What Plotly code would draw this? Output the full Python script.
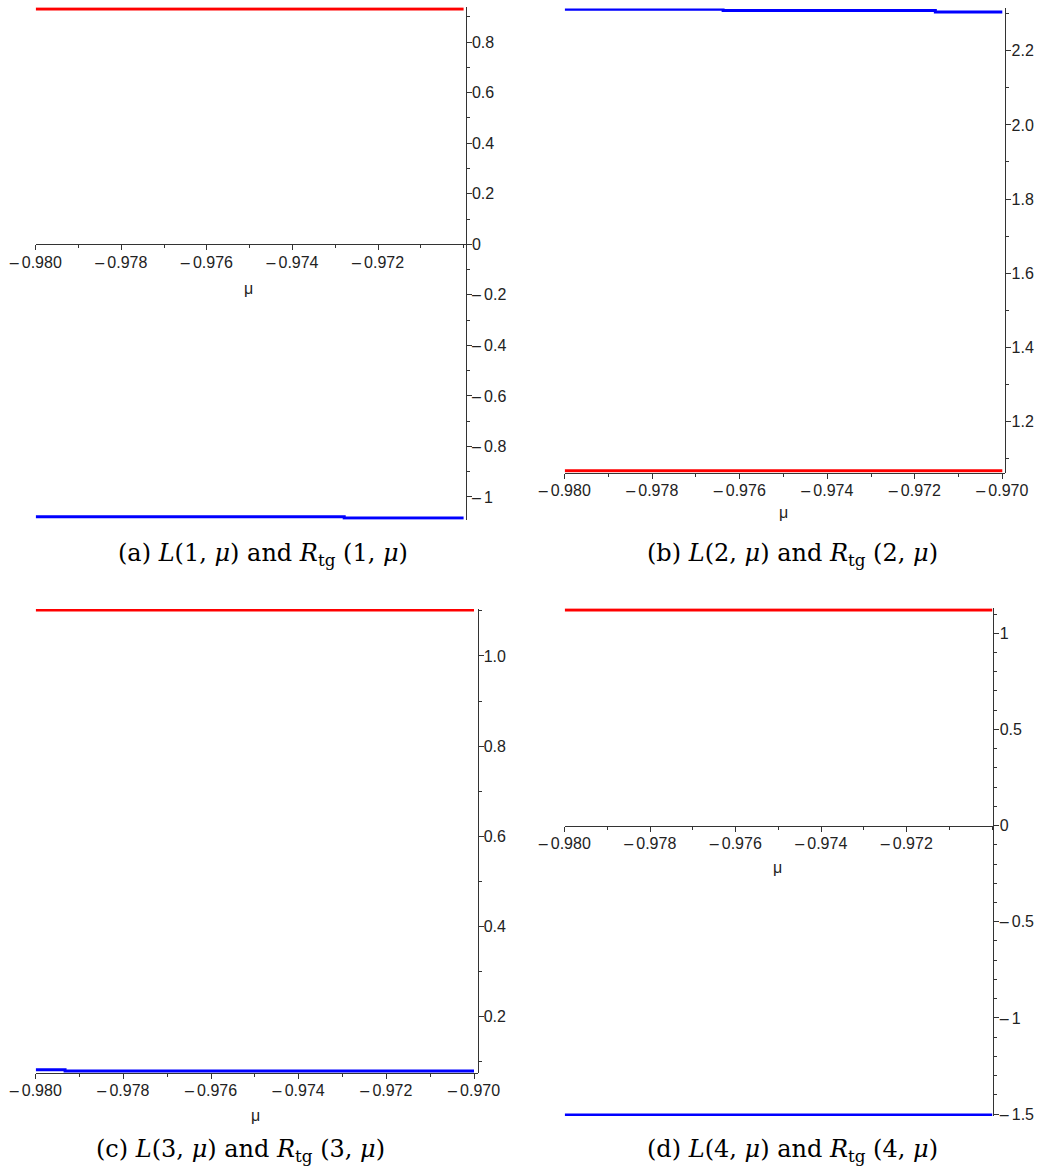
import plotly.graph_objects as go

W, H = 1044, 1176

# ---------------- data ----------------
# panel (a)
mu_a_red = [-0.980, -0.970]
L_a = [0.931, 0.931]
mu_a_blue = [-0.980, -0.97279, -0.970]
R_a = [-1.078, -1.083, -1.083]
# panel (b)
mu_b_red = [-0.980, -0.970]
L_b = [1.0675, 1.0675]
mu_b_blue = [-0.980, -0.97638, -0.97153, -0.970]
R_b = [2.312, 2.3085, 2.3046, 2.3046]
# panel (c)
mu_c_red = [-0.980, -0.970]
L_c = [1.102, 1.102]
mu_c_blue = [-0.980, -0.97933, -0.970]
R_c = [0.0825, 0.0795, 0.0795]
# panel (d)
mu_d_red = [-0.980, -0.970]
L_d = [1.121, 1.121]
mu_d_blue = [-0.980, -0.970]
R_d = [-1.505, -1.505]

# tick labels
M = "–\u2009"  # minus sign as drawn in the reference
xt_short = [-0.980, -0.978, -0.976, -0.974, -0.972]
xt_short_txt = [M + "0.980", M + "0.978", M + "0.976", M + "0.974", M + "0.972"]
xt_long = [-0.980, -0.978, -0.976, -0.974, -0.972, -0.970]
xt_long_txt = [M + "0.980", M + "0.978", M + "0.976", M + "0.974", M + "0.972", M + "0.970"]

yt_a = [0.8, 0.6, 0.4, 0.2, 0, -0.2, -0.4, -0.6, -0.8, -1]
yt_a_txt = ["0.8", "0.6", "0.4", "0.2", "0", M + "0.2", M + "0.4", M + "0.6", M + "0.8", M + "1"]
yt_b = [2.2, 2.0, 1.8, 1.6, 1.4, 1.2]
yt_b_txt = ["2.2", "2.0", "1.8", "1.6", "1.4", "1.2"]
yt_c = [1.0, 0.8, 0.6, 0.4, 0.2]
yt_c_txt = ["1.0", "0.8", "0.6", "0.4", "0.2"]
yt_d = [1, 0.5, 0, -0.5, -1, -1.5]
yt_d_txt = ["1", "0.5", "0", M + "0.5", M + "1", M + "1.5"]

captions = [
    "(a) <i>L</i>(1, <i>μ</i>) and <i>R</i><sub>tg</sub> (1, <i>μ</i>)",
    "(b) <i>L</i>(2, <i>μ</i>) and <i>R</i><sub>tg</sub> (2, <i>μ</i>)",
    "(c) <i>L</i>(3, <i>μ</i>) and <i>R</i><sub>tg</sub> (3, <i>μ</i>)",
    "(d) <i>L</i>(4, <i>μ</i>) and <i>R</i><sub>tg</sub> (4, <i>μ</i>)",
]

# ---------------- layout geometry (pixels) ----------------
panels = [
    dict(x0=35.7, xs=42790, xr=[-0.980, -0.96995], yv=0.0, ypx=244.3, ys=252.7,
         yr=[-1.09, 0.938], xaxis_at=0.0, yt=yt_a, ytt=yt_a_txt, ydt=0.1,
         xt=xt_short, xtt=xt_short_txt, cap=(263, 554), mu=(248, 288),
         red=(mu_a_red, L_a), blue=(mu_a_blue, R_a)),
    dict(x0=564.7, xs=43760, xr=[-0.980, -0.96993], yv=1.2, ypx=421.7, ys=371.0,
         yr=[1.0625, 2.314], xaxis_at=1.0625, yt=yt_b, ytt=yt_b_txt, ydt=0.1,
         xt=xt_long, xtt=xt_long_txt, cap=(792, 554), mu=(783, 512),
         red=(mu_b_red, L_b), blue=(mu_b_blue, R_b)),
    dict(x0=35.7, xs=43830, xr=[-0.980, -0.96992], yv=0.2, ypx=1016.7, ys=450.9,
         yr=[0.0745, 1.104], xaxis_at=0.0745, yt=yt_c, ytt=yt_c_txt, ydt=0.1,
         xt=xt_long, xtt=xt_long_txt, cap=(240, 1150), mu=(255, 1115),
         red=(mu_c_red, L_c), blue=(mu_c_blue, R_c)),
    dict(x0=564.7, xs=42750, xr=[-0.980, -0.96997], yv=0.0, ypx=825.6, ys=192.3,
         yr=[-1.51, 1.13], xaxis_at=0.0, yt=yt_d, ytt=yt_d_txt, ydt=0.1,
         xt=xt_short, xtt=xt_short_txt, cap=(792, 1150), mu=(777, 867),
         red=(mu_d_red, L_d), blue=(mu_d_blue, R_d)),
]

AX = "#333333"
TICKFONT = dict(family="Liberation Sans, Arial, sans-serif", size=16, color="#222222")

fig = go.Figure()
layout = dict(width=W, height=H, margin=dict(l=0, r=0, t=0, b=0, autoexpand=False),
              paper_bgcolor="white", plot_bgcolor="white", showlegend=False)
annotations = []

for i, p in enumerate(panels, start=1):
    xa = "x" if i == 1 else f"x{i}"
    ya = "y" if i == 1 else f"y{i}"
    xkey = "xaxis" if i == 1 else f"xaxis{i}"
    ykey = "yaxis" if i == 1 else f"yaxis{i}"

    xl = p["x0"] + (p["xr"][0] + 0.980) * p["xs"]
    xrpx = p["x0"] + (p["xr"][1] + 0.980) * p["xs"]
    ytop = p["ypx"] - (p["yr"][1] - p["yv"]) * p["ys"]
    ybot = p["ypx"] - (p["yr"][0] - p["yv"]) * p["ys"]
    xdom = [xl / W, xrpx / W]
    ydom = [1 - ybot / H, 1 - ytop / H]
    axis_pos = ydom[0] + (p["xaxis_at"] - p["yr"][0]) / (p["yr"][1] - p["yr"][0]) * (ydom[1] - ydom[0])

    mr, vr = p["red"]
    mb, vb = p["blue"]
    fig.add_trace(go.Scatter(x=mr, y=vr, mode="lines", line=dict(color="#ff0000", width=3, shape="hv"),
                             name="L", xaxis=xa, yaxis=ya))
    fig.add_trace(go.Scatter(x=mb, y=vb, mode="lines", line=dict(color="#0000ff", width=3, shape="hv"),
                             name="R_tg", xaxis=xa, yaxis=ya))

    layout[xkey] = dict(domain=xdom, range=p["xr"], anchor="free", position=axis_pos, automargin=False,
                        showline=True, linecolor=AX, linewidth=1, showgrid=False, zeroline=False,
                        ticks="outside", ticklen=5, tickwidth=1, tickcolor=AX, ticklabelstandoff=-2,
                        tickmode="array", tickvals=p["xt"], ticktext=p["xtt"], tickfont=TICKFONT,
                        minor=dict(ticks="outside", ticklen=3, tickwidth=1, tickcolor=AX,
                                   dtick=0.001, tick0=-0.980, showgrid=False))
    layout[ykey] = dict(domain=ydom, range=p["yr"], anchor=xa, side="right", automargin=False,
                        showline=True, linecolor=AX, linewidth=1, showgrid=False, zeroline=False,
                        ticks="outside", ticklen=5, tickwidth=1, tickcolor=AX, ticklabelstandoff=-3,
                        tickmode="array", tickvals=p["yt"], ticktext=p["ytt"], tickfont=TICKFONT,
                        minor=dict(ticks="outside", ticklen=3, tickwidth=1, tickcolor=AX,
                                   dtick=p["ydt"], tick0=0, showgrid=False))

    annotations.append(dict(x=p["mu"][0] / W, y=1 - p["mu"][1] / H, xref="paper", yref="paper",
                            text="μ", showarrow=False, xanchor="center", yanchor="middle",
                            font=dict(family="Liberation Sans, Arial, sans-serif", size=16, color="#222222")))
    annotations.append(dict(x=p["cap"][0] / W, y=1 - p["cap"][1] / H, xref="paper", yref="paper",
                            text=captions[i - 1], showarrow=False, xanchor="center", yanchor="middle",
                            font=dict(family="DejaVu Serif, serif", size=24, color="black")))

layout["annotations"] = annotations
fig.update_layout(**layout)
fig.write_html("out.html", config={"displayModeBar": False},
               post_script="document.body.style.margin='0';document.body.style.padding='0';")
